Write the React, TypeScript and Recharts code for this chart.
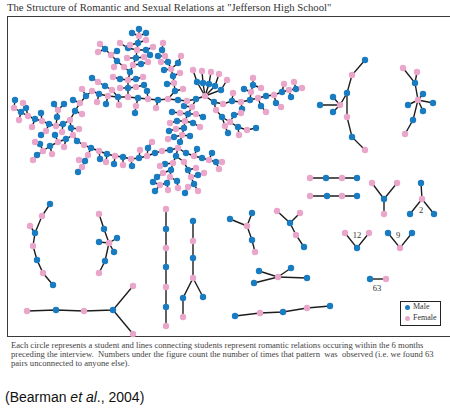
import React from 'react';
import { ScatterChart, Scatter, XAxis, YAxis } from 'recharts';

// Each network: gender of the first node in the first chain, then chains of
// [x, y, x, y, ...] layout positions; consecutive points are linked.
type Net = { first: 'M' | 'F'; chains: number[][] };

const GIANT: Net = {
  first: 'M',
  chains: [
    [139, 29, 139, 36, 138, 43, 137, 50, 136, 58, 133, 65, 130, 72, 128, 80, 128, 88, 128, 97],
    [139, 36, 132, 33], [139, 36, 146, 33], [138, 43, 130, 45], [138, 43, 146, 40],
    [137, 50, 128, 48, 120, 43], [137, 50, 146, 50, 153, 47], [136, 58, 127, 58],
    [136, 58, 144, 57, 150, 55], [133, 65, 141, 64, 148, 62],
    [130, 72, 124, 67, 117, 61, 111, 55, 105, 49, 100, 44],
    [117, 61, 114, 67], [111, 55, 117, 51], [105, 49, 98, 52],
    [128, 80, 120, 79, 113, 77], [128, 80, 136, 79, 143, 77],
    [128, 88, 120, 88], [128, 88, 136, 87, 144, 85],
    [205, 96, 196, 99, 187, 101, 178, 100, 168, 99, 158, 100, 148, 99, 138, 98, 128, 97, 118, 97, 108, 96, 99, 94, 92, 91],
    [158, 100, 156, 108], [148, 99, 147, 91], [138, 98, 136, 106, 135, 113],
    [118, 97, 119, 105], [108, 96, 106, 104], [99, 94, 97, 102],
    [118, 97, 112, 90, 105, 86, 98, 82, 92, 78],
    [92, 91, 86, 96, 80, 103, 75, 111, 70, 120, 63, 124, 56, 126, 49, 124, 42, 121, 35, 119, 28, 116, 21, 112, 14, 108],
    [86, 96, 82, 89], [80, 103, 73, 100], [75, 111, 82, 114], [63, 124, 62, 132],
    [56, 126, 57, 117, 58, 110, 54, 104], [58, 110, 64, 104], [49, 124, 46, 131, 41, 135],
    [42, 121, 41, 113], [35, 119, 32, 127], [28, 116, 26, 108, 23, 103], [21, 112, 19, 120],
    [14, 108, 15, 100],
    [70, 120, 71, 128, 73, 135, 77, 141, 84, 145, 91, 148, 99, 151, 107, 154, 115, 156, 123, 157, 131, 159, 139, 158, 147, 156, 155, 153, 162, 151, 170, 150, 178, 148],
    [91, 148, 88, 155, 85, 161, 82, 167, 78, 172], [85, 161, 79, 160],
    [99, 151, 100, 159], [107, 154, 106, 162], [115, 156, 114, 164], [123, 157, 123, 165],
    [131, 159, 132, 166], [147, 156, 148, 148, 152, 142], [139, 158, 140, 150],
    [73, 135, 66, 139, 58, 142, 50, 146, 43, 151, 37, 155],
    [66, 139, 64, 147], [58, 142, 55, 135], [50, 146, 52, 154], [43, 151, 40, 144, 35, 142],
    [37, 155, 33, 160], [71, 128, 79, 129],
    [205, 96, 197, 82, 193, 70], [205, 96, 203, 83, 202, 71], [205, 96, 209, 84, 211, 72],
    [205, 96, 215, 86, 219, 74], [205, 96, 221, 90, 227, 80],
    [205, 96, 214, 102, 223, 104, 232, 101, 241, 102, 250, 100, 258, 98, 266, 96, 274, 95, 282, 92, 289, 90, 296, 89, 302, 88],
    [214, 102, 216, 110, 222, 117, 230, 122, 238, 127, 247, 130, 256, 128],
    [222, 117, 225, 126, 228, 133], [230, 122, 234, 115, 241, 113], [238, 127, 239, 135],
    [250, 100, 251, 92, 253, 85, 253, 78], [251, 92, 244, 89], [253, 85, 261, 88],
    [258, 98, 261, 106, 266, 112], [274, 95, 276, 103, 281, 107], [282, 92, 284, 84],
    [289, 90, 291, 97], [296, 89, 294, 82], [232, 101, 233, 93], [241, 102, 242, 109],
    [168, 99, 175, 91, 174, 83, 173, 76, 171, 69, 168, 62, 165, 56, 162, 50],
    [175, 91, 183, 89], [174, 83, 167, 84], [173, 76, 180, 73], [171, 69, 164, 70],
    [171, 69, 178, 63, 181, 56], [168, 62, 161, 62], [162, 50, 163, 43], [165, 56, 158, 56],
    [196, 99, 192, 107, 188, 114, 185, 121, 184, 128, 182, 135, 180, 142, 178, 148],
    [192, 107, 184, 106], [188, 114, 180, 113, 172, 112], [185, 121, 177, 121, 170, 123],
    [184, 128, 176, 129, 169, 131], [182, 135, 174, 137, 168, 139],
    [188, 114, 196, 114, 203, 117], [185, 121, 193, 123, 200, 127], [182, 135, 190, 136],
    [178, 148, 186, 153, 194, 156, 202, 158, 209, 160, 216, 162, 222, 162],
    [216, 162, 219, 169], [209, 160, 212, 153], [194, 156, 197, 149],
    [178, 148, 176, 156, 173, 163, 171, 170, 170, 177, 167, 183],
    [176, 156, 184, 162, 188, 170, 191, 177, 194, 184, 198, 191],
    [173, 163, 165, 164, 160, 166], [171, 170, 163, 173, 157, 177], [170, 177, 177, 181, 178, 188],
    [167, 183, 160, 185, 153, 182], [167, 183, 168, 190], [160, 185, 155, 191],
    [188, 170, 196, 168], [191, 177, 198, 175, 204, 173], [194, 184, 188, 187, 185, 193],
  ],
};

const SMALL: Net[] = [
  { first: 'M', chains: [[365, 60, 352, 75, 347, 93, 340, 105, 320, 105], [340, 105, 333, 97], [340, 105, 333, 112], [347, 93, 347, 117, 352, 137, 365, 150]] },
  { first: 'F', chains: [[403, 68, 415, 83, 418, 100, 413, 120, 405, 134], [417, 72, 415, 83], [418, 100, 423, 94], [418, 100, 433, 103], [418, 100, 423, 111], [418, 100, 408, 105]] },
  { first: 'F', chains: [[310, 178, 326, 178, 342, 178, 357, 178]] },
  { first: 'F', chains: [[310, 196, 327, 196, 342, 196, 357, 196]] },
  { first: 'F', chains: [[372, 183, 384, 199, 384, 214], [397, 183, 384, 199]] },
  { first: 'M', chains: [[421, 183, 422, 199, 410, 214], [422, 199, 434, 214]] },
  { first: 'M', chains: [[50, 204, 42, 216, 35, 233, 33, 246, 37, 260, 43, 273, 53, 285], [30, 226, 35, 233]] },
  { first: 'F', chains: [[99, 214, 104, 229, 109, 243, 105, 261, 99, 273], [109, 243, 99, 242], [109, 243, 117, 238], [109, 243, 114, 252]] },
  { first: 'F', chains: [[166, 209, 166, 229, 166, 248, 166, 267, 166, 287, 166, 307, 166, 326]] },
  { first: 'M', chains: [[193, 221, 193, 241, 193, 258, 193, 278, 183, 298, 183, 317], [193, 278, 203, 297]] },
  { first: 'F', chains: [[27, 311, 56, 310, 84, 311, 113, 310, 133, 286], [113, 310, 133, 334]] },
  { first: 'F', chains: [[247, 226, 230, 219], [247, 226, 252, 213], [247, 226, 252, 240, 255, 252]] },
  { first: 'F', chains: [[277, 211, 290, 223, 296, 235, 304, 247], [300, 213, 290, 223]] },
  { first: 'F', chains: [[345, 233, 357, 248, 369, 233]] },
  { first: 'M', chains: [[388, 233, 400, 248, 412, 233]] },
  { first: 'F', chains: [[278, 277, 259, 271], [278, 277, 254, 283], [278, 277, 291, 268], [278, 277, 307, 278]] },
  { first: 'M', chains: [[370, 279, 386, 279]] },
  { first: 'M', chains: [[235, 316, 260, 313, 283, 312, 307, 308, 330, 306]] },
];

const COUNT_LABELS = ['2', '12', '9', '63'];
const COUNT_X = [421, 357, 398, 377];
const COUNT_Y = [211, 236, 236, 289];

const BLUE = '#1a7cc0';
const PINK = '#eaa6ca';
const INK = '#1e1e1e';

type Pt = { x: number; y: number };

function layout(nets: Net[]) {
  const male: Pt[] = [];
  const female: Pt[] = [];
  const links: Pt[][] = [];
  nets.forEach((net) => {
    const adj = new Map<string, string[]>();
    const pos = new Map<string, Pt>();
    const link = (a: string, b: string) => {
      if (!adj.has(a)) adj.set(a, []);
      if (!adj.has(b)) adj.set(b, []);
      adj.get(a)!.push(b);
      adj.get(b)!.push(a);
    };
    net.chains.forEach((c) => {
      const pts: Pt[] = [];
      for (let i = 0; i < c.length; i += 2) {
        const p = { x: c[i], y: c[i + 1] };
        pos.set(`${p.x},${p.y}`, p);
        pts.push(p);
      }
      for (let i = 1; i < pts.length; i++) link(`${pts[i - 1].x},${pts[i - 1].y}`, `${pts[i].x},${pts[i].y}`);
      links.push(pts);
    });
    const start = `${net.chains[0][0]},${net.chains[0][1]}`;
    const side = new Map<string, number>([[start, net.first === 'M' ? 0 : 1]]);
    const queue = [start];
    while (queue.length) {
      const k = queue.shift()!;
      (adj.get(k) || []).forEach((n) => {
        if (!side.has(n)) {
          side.set(n, 1 - side.get(k)!);
          queue.push(n);
        }
      });
    }
    pos.forEach((p, k) => ((side.get(k) ?? 0) === 0 ? male : female).push(p));
  });
  return { male, female, links };
}

const { male, female, links } = layout([GIANT, ...SMALL]);
const counts = COUNT_LABELS.map((t, i) => ({ x: COUNT_X[i], y: COUNT_Y[i], t }));

const noDot = () => <g />;
const dot = (fill: string) => (p: any) => <circle cx={p.cx} cy={p.cy} r={3.2} fill={fill} />;
const countText = (p: any) => (
  <text x={p.cx} y={p.cy} textAnchor="middle" dominantBaseline="middle" fontSize={8.5} fill="#333" fontFamily="Liberation Serif">
    {p.payload.t}
  </text>
);

const serif = '"Liberation Serif", "Times New Roman", serif';

export default function App() {
  return (
    <div style={{ position: 'fixed', left: 0, top: 0, width: 450, height: 417, overflow: 'hidden', background: '#fff' }}>
      <div style={{ position: 'absolute', left: 7, top: 16, width: 470, height: 319, border: '1.5px solid #3a3a3a' }} />
      <div style={{ position: 'absolute', left: 0, top: 0 }}>
        <ScatterChart width={450} height={417} margin={{ top: 0, right: 0, bottom: 0, left: 0 }}>
          <XAxis type="number" dataKey="x" domain={[0, 450]} allowDataOverflow hide />
          <YAxis type="number" dataKey="y" domain={[0, 417]} allowDataOverflow reversed hide />
          {links.map((pts, i) => (
            <Scatter key={`l${i}`} data={pts} line={{ stroke: INK, strokeWidth: 1.4 }} shape={noDot} isAnimationActive={false} />
          ))}
          <Scatter name="Male" data={male} shape={dot(BLUE)} isAnimationActive={false} />
          <Scatter name="Female" data={female} shape={dot(PINK)} isAnimationActive={false} />
          <Scatter data={counts} shape={countText} isAnimationActive={false} />
        </ScatterChart>
      </div>
      <div style={{ position: 'absolute', left: 7, top: 1, fontFamily: serif, fontSize: 10.7, fontWeight: 400, color: '#333', whiteSpace: 'nowrap' }}>
        The Structure of Romantic and Sexual Relations at "Jefferson High School"
      </div>
      <div style={{ position: 'absolute', left: 400, top: 301, width: 39, height: 23, border: '1.5px solid #222', background: '#fff', fontFamily: serif, fontSize: 8, color: '#333' }}>
        <div style={{ position: 'absolute', left: 4, top: 3, width: 5, height: 5, borderRadius: 3, background: BLUE }} />
        <div style={{ position: 'absolute', left: 12, top: 0 }}>Male</div>
        <div style={{ position: 'absolute', left: 4, top: 14, width: 5, height: 5, borderRadius: 3, background: PINK }} />
        <div style={{ position: 'absolute', left: 12, top: 11 }}>Female</div>
      </div>
      <div style={{ position: 'absolute', left: 11, top: 341, fontFamily: serif, fontSize: 8.6, lineHeight: '8.8px', color: '#444', whiteSpace: 'pre' }}>
        {'Each circle represents a student and lines connecting students represent romantic relations occuring within the 6 months\npreceding the interview.  Numbers under the figure count the number of times that pattern  was  observed (i.e. we found 63\npairs unconnected to anyone else).'}
      </div>
      <div style={{ position: 'absolute', left: 5, top: 389, fontFamily: '"Liberation Sans", Arial, sans-serif', fontSize: 14, color: '#111', whiteSpace: 'nowrap' }}>
        (Bearman <i>et al</i>., 2004)
      </div>
    </div>
  );
}
